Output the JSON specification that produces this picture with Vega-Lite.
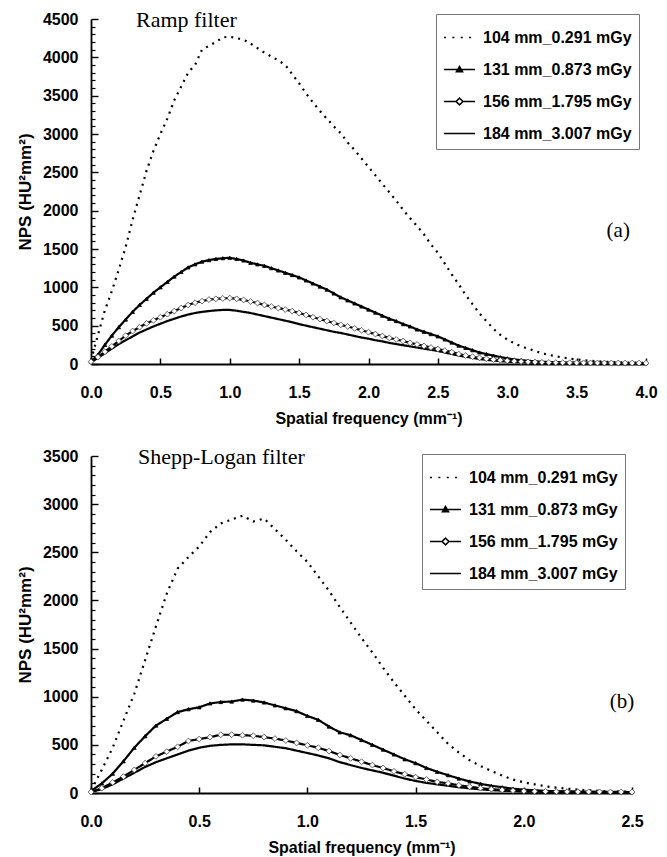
{
  "$schema": "https://vega.github.io/schema/vega-lite/v6.json",
  "padding": {"left": 16, "top": 8, "right": 5, "bottom": 5},
  "background": "white",
  "config": {"view": {"stroke": null}, "font": "Liberation Sans"},
  "spacing": 19,
  "resolve": {
    "scale": {"strokeDash": "independent", "shape": "independent", "color": "independent", "x": "independent", "y": "independent"},
    "legend": {"strokeDash": "independent", "shape": "independent", "color": "independent"}
  },
  "datasets": {
    "ramp": [
      {"f":0.00,"a":50,"b":30,"c":30,"d":20},
      {"f":0.05,"a":380,"b":120,"c":90,"d":80},
      {"f":0.10,"a":700,"b":250,"c":160,"d":140},
      {"f":0.15,"a":950,"b":370,"c":230,"d":200},
      {"f":0.20,"a":1230,"b":480,"c":300,"d":260},
      {"f":0.25,"a":1530,"b":580,"c":370,"d":310},
      {"f":0.30,"a":1880,"b":680,"c":430,"d":360},
      {"f":0.35,"a":2200,"b":770,"c":480,"d":410},
      {"f":0.40,"a":2520,"b":850,"c":530,"d":450},
      {"f":0.45,"a":2780,"b":930,"c":570,"d":490},
      {"f":0.50,"a":3000,"b":1000,"c":610,"d":525},
      {"f":0.55,"a":3200,"b":1070,"c":650,"d":560},
      {"f":0.60,"a":3440,"b":1140,"c":690,"d":590},
      {"f":0.65,"a":3620,"b":1200,"c":730,"d":620},
      {"f":0.70,"a":3800,"b":1260,"c":770,"d":645},
      {"f":0.75,"a":3900,"b":1300,"c":800,"d":665},
      {"f":0.80,"a":4100,"b":1335,"c":820,"d":680},
      {"f":0.85,"a":4150,"b":1355,"c":840,"d":690},
      {"f":0.90,"a":4200,"b":1370,"c":850,"d":700},
      {"f":0.95,"a":4260,"b":1380,"c":855,"d":705},
      {"f":1.00,"a":4270,"b":1385,"c":860,"d":705},
      {"f":1.05,"a":4250,"b":1370,"c":850,"d":695},
      {"f":1.10,"a":4230,"b":1350,"c":835,"d":680},
      {"f":1.15,"a":4180,"b":1320,"c":815,"d":665},
      {"f":1.20,"a":4120,"b":1300,"c":795,"d":645},
      {"f":1.25,"a":4060,"b":1280,"c":770,"d":625},
      {"f":1.30,"a":4010,"b":1250,"c":750,"d":605},
      {"f":1.35,"a":3960,"b":1220,"c":730,"d":585},
      {"f":1.40,"a":3900,"b":1190,"c":710,"d":565},
      {"f":1.45,"a":3780,"b":1160,"c":690,"d":545},
      {"f":1.50,"a":3660,"b":1130,"c":665,"d":520},
      {"f":1.55,"a":3530,"b":1090,"c":640,"d":500},
      {"f":1.60,"a":3410,"b":1050,"c":610,"d":480},
      {"f":1.65,"a":3300,"b":1010,"c":585,"d":460},
      {"f":1.70,"a":3200,"b":970,"c":560,"d":440},
      {"f":1.75,"a":3100,"b":920,"c":535,"d":420},
      {"f":1.80,"a":3010,"b":870,"c":510,"d":405},
      {"f":1.85,"a":2890,"b":830,"c":490,"d":385},
      {"f":1.90,"a":2790,"b":790,"c":465,"d":365},
      {"f":1.95,"a":2680,"b":750,"c":440,"d":345},
      {"f":2.00,"a":2570,"b":710,"c":415,"d":330},
      {"f":2.05,"a":2460,"b":670,"c":390,"d":310},
      {"f":2.10,"a":2350,"b":630,"c":365,"d":295},
      {"f":2.15,"a":2240,"b":590,"c":340,"d":275},
      {"f":2.20,"a":2130,"b":560,"c":320,"d":260},
      {"f":2.25,"a":2010,"b":520,"c":300,"d":245},
      {"f":2.30,"a":1900,"b":490,"c":275,"d":230},
      {"f":2.35,"a":1800,"b":450,"c":255,"d":215},
      {"f":2.40,"a":1690,"b":420,"c":235,"d":200},
      {"f":2.45,"a":1560,"b":390,"c":215,"d":185},
      {"f":2.50,"a":1450,"b":360,"c":195,"d":170},
      {"f":2.55,"a":1310,"b":320,"c":175,"d":150},
      {"f":2.60,"a":1170,"b":280,"c":155,"d":130},
      {"f":2.65,"a":1040,"b":240,"c":130,"d":110},
      {"f":2.70,"a":900,"b":210,"c":110,"d":95},
      {"f":2.75,"a":780,"b":180,"c":95,"d":80},
      {"f":2.80,"a":660,"b":150,"c":80,"d":65},
      {"f":2.85,"a":560,"b":130,"c":68,"d":55},
      {"f":2.90,"a":460,"b":110,"c":58,"d":45},
      {"f":2.95,"a":380,"b":90,"c":50,"d":38},
      {"f":3.00,"a":320,"b":75,"c":42,"d":30},
      {"f":3.05,"a":270,"b":60,"c":36,"d":26},
      {"f":3.10,"a":230,"b":50,"c":32,"d":22},
      {"f":3.15,"a":200,"b":42,"c":28,"d":20},
      {"f":3.20,"a":170,"b":35,"c":25,"d":18},
      {"f":3.25,"a":140,"b":30,"c":22,"d":16},
      {"f":3.30,"a":120,"b":25,"c":20,"d":15},
      {"f":3.35,"a":100,"b":22,"c":18,"d":14},
      {"f":3.40,"a":85,"b":20,"c":17,"d":13},
      {"f":3.45,"a":70,"b":18,"c":16,"d":12},
      {"f":3.50,"a":60,"b":17,"c":15,"d":12},
      {"f":3.55,"a":50,"b":16,"c":15,"d":11},
      {"f":3.60,"a":42,"b":15,"c":14,"d":11},
      {"f":3.65,"a":35,"b":15,"c":14,"d":10},
      {"f":3.70,"a":30,"b":14,"c":14,"d":10},
      {"f":3.75,"a":25,"b":14,"c":13,"d":10},
      {"f":3.80,"a":22,"b":13,"c":13,"d":10},
      {"f":3.85,"a":20,"b":13,"c":13,"d":10},
      {"f":3.90,"a":18,"b":13,"c":13,"d":10},
      {"f":3.95,"a":16,"b":12,"c":12,"d":10},
      {"f":4.00,"a":15,"b":12,"c":12,"d":10}
    ],
    "shepp": [
      {"f":0.00,"a":30,"b":20,"c":10,"d":10},
      {"f":0.05,"a":240,"b":100,"c":50,"d":40},
      {"f":0.10,"a":470,"b":200,"c":110,"d":90},
      {"f":0.15,"a":750,"b":330,"c":170,"d":150},
      {"f":0.20,"a":1030,"b":470,"c":240,"d":210},
      {"f":0.25,"a":1380,"b":590,"c":310,"d":270},
      {"f":0.30,"a":1730,"b":700,"c":380,"d":320},
      {"f":0.35,"a":2070,"b":770,"c":430,"d":360},
      {"f":0.40,"a":2330,"b":840,"c":480,"d":400},
      {"f":0.45,"a":2450,"b":870,"c":540,"d":440},
      {"f":0.50,"a":2560,"b":890,"c":560,"d":470},
      {"f":0.55,"a":2710,"b":930,"c":580,"d":490},
      {"f":0.60,"a":2800,"b":945,"c":605,"d":500},
      {"f":0.65,"a":2840,"b":950,"c":605,"d":505},
      {"f":0.70,"a":2880,"b":970,"c":600,"d":505},
      {"f":0.75,"a":2820,"b":960,"c":595,"d":500},
      {"f":0.80,"a":2850,"b":940,"c":580,"d":495},
      {"f":0.85,"a":2740,"b":910,"c":565,"d":480},
      {"f":0.90,"a":2630,"b":880,"c":545,"d":465},
      {"f":0.95,"a":2510,"b":850,"c":520,"d":440},
      {"f":1.00,"a":2400,"b":800,"c":495,"d":415},
      {"f":1.05,"a":2250,"b":760,"c":470,"d":390},
      {"f":1.10,"a":2100,"b":690,"c":435,"d":360},
      {"f":1.15,"a":1930,"b":630,"c":395,"d":320},
      {"f":1.20,"a":1770,"b":600,"c":360,"d":290},
      {"f":1.25,"a":1610,"b":550,"c":325,"d":260},
      {"f":1.30,"a":1460,"b":500,"c":290,"d":235},
      {"f":1.35,"a":1300,"b":450,"c":260,"d":210},
      {"f":1.40,"a":1150,"b":400,"c":225,"d":180},
      {"f":1.45,"a":1010,"b":350,"c":195,"d":150},
      {"f":1.50,"a":870,"b":310,"c":165,"d":125},
      {"f":1.55,"a":750,"b":260,"c":140,"d":105},
      {"f":1.60,"a":630,"b":220,"c":115,"d":90},
      {"f":1.65,"a":510,"b":185,"c":100,"d":75},
      {"f":1.70,"a":420,"b":150,"c":80,"d":60},
      {"f":1.75,"a":340,"b":120,"c":65,"d":48},
      {"f":1.80,"a":280,"b":95,"c":50,"d":38},
      {"f":1.85,"a":230,"b":75,"c":40,"d":30},
      {"f":1.90,"a":180,"b":60,"c":32,"d":24},
      {"f":1.95,"a":140,"b":45,"c":25,"d":20},
      {"f":2.00,"a":110,"b":35,"c":20,"d":16},
      {"f":2.05,"a":90,"b":28,"c":18,"d":14},
      {"f":2.10,"a":70,"b":22,"c":16,"d":12},
      {"f":2.15,"a":55,"b":18,"c":15,"d":11},
      {"f":2.20,"a":45,"b":15,"c":14,"d":10},
      {"f":2.25,"a":35,"b":13,"c":13,"d":10},
      {"f":2.30,"a":28,"b":12,"c":12,"d":10},
      {"f":2.35,"a":22,"b":11,"c":12,"d":10},
      {"f":2.40,"a":18,"b":10,"c":11,"d":10},
      {"f":2.45,"a":15,"b":10,"c":11,"d":10},
      {"f":2.50,"a":12,"b":10,"c":10,"d":10}
    ]
  },
  "vconcat": [
    {
      "width": 555,
      "height": 345,
      "data": {"name": "ramp"},
      "transform": [{"fold": ["a", "b", "c", "d"], "as": ["s", "v"]}],
      "resolve": {"axis": {"y": "independent"}},
      "layer": [
        {
          "mark": {"type": "line", "strokeWidth": 2.2},
          "encoding": {
            "x": {
              "field": "f", "type": "quantitative",
              "scale": {"domain": [0, 4], "nice": false, "zero": false},
              "axis": {
                "values": [0, 0.5, 1, 1.5, 2, 2.5, 3, 3.5, 4],
                "format": ".1f", "grid": false,
                "domainColor": "black", "domainWidth": 1.8,
                "tickColor": "black", "tickWidth": 1.5, "tickSize": -6,
                "labelPadding": 26, "labelFont": "Liberation Sans", "labelFontWeight": "bold", "labelFontSize": 16, "labelColor": "black",
                "labelFlush": false, "labelOverlap": false,
                "title": "Spatial frequency (mm⁻¹)", "titleFont": "Liberation Sans", "titleFontWeight": "bold", "titleFontSize": 16, "titleColor": "black", "titlePadding": 10
              }
            },
            "y": {
              "field": "v", "type": "quantitative",
              "scale": {"domain": [0, 4500], "nice": false},
              "axis": {
                "values": [0, 500, 1000, 1500, 2000, 2500, 3000, 3500, 4000, 4500],
                "format": "d", "grid": false,
                "domainColor": "black", "domainWidth": 1.8,
                "tickColor": "black", "tickWidth": 1.4, "tickSize": -7,
                "labelPadding": 20, "labelFont": "Liberation Sans", "labelFontWeight": "bold", "labelFontSize": 16, "labelColor": "black",
                "labelFlush": false, "labelOverlap": false,
                "title": "NPS (HU²mm²)", "titleFont": "Liberation Sans", "titleFontWeight": "bold", "titleFontSize": 17, "titleColor": "black", "titlePadding": 8
              }
            },
            "strokeDash": {
              "field": "s", "type": "nominal",
              "scale": {"domain": ["a", "b", "c", "d"], "range": [[2, 5], [1, 0], [1, 0], [1, 0]]},
              "legend": null
            },
            "color": {
              "field": "s", "type": "nominal",
              "scale": {"domain": ["a", "b", "c", "d"], "range": ["black", "black", "black", "black"]},
              "legend": {
                "orient": "none", "legendX": 345, "legendY": -5,
                "title": null, "strokeColor": "#777", "fillColor": "white", "padding": 7,
                "symbolSize": 960, "symbolStrokeWidth": 1.5, "symbolStrokeColor": "black",
                "labelFont": "Liberation Sans", "labelFontWeight": "bold", "labelFontSize": 16, "labelColor": "black",
                "labelOffset": 7, "rowPadding": 7,
                "labelExpr": "datum.label === 'a' ? '104 mm_0.291 mGy' : datum.label === 'b' ? '131 mm_0.873 mGy' : datum.label === 'c' ? '156 mm_1.795 mGy' : '184 mm_3.007 mGy'",
                "encode": {
                  "symbols": {
                    "update": {
                      "shape": {"signal": "datum.value === 'a' ? 'M-1,0H-0.72M-0.46,0H-0.18M0.08,0H0.36M0.62,0H0.9' : datum.value === 'b' ? 'M-1,0H1M-0.2,0.15L0,-0.2L0.2,0.15Z' : datum.value === 'c' ? 'M-1,0H-0.22M0.22,0H1M-0.22,0L0,-0.22L0.22,0L0,0.22Z' : 'M-1,0H1'"},
                      "fill": {"signal": "datum.value === 'b' ? 'black' : 'white'"},
                      "stroke": {"value": "black"}
                    }
                  }
                }
              }
            }
          }
        },
        {
          "transform": [{"filter": "datum.s === 'b' || datum.s === 'c'"}],
          "mark": {"type": "point", "strokeWidth": 0.8, "opacity": 1},
          "encoding": {
            "x": {"field": "f", "type": "quantitative"},
            "y": {
              "field": "v", "type": "quantitative",
              "axis": {
                "orient": "left",
                "values": [100,200,300,400,600,700,800,900,1100,1200,1300,1400,1600,1700,1800,1900,2100,2200,2300,2400,2600,2700,2800,2900,3100,3200,3300,3400,3600,3700,3800,3900,4100,4200,4300,4400],
                "labels": false, "domain": false, "grid": false, "title": null,
                "tickColor": "black", "tickWidth": 1.2, "tickSize": -4
              }
            },
            "shape": {"field": "s", "type": "nominal", "scale": {"domain": ["b", "c"], "range": ["triangle-up", "diamond"]}, "legend": null},
            "fill": {"condition": {"test": "datum.s === 'b'", "value": "black"}, "value": "white"},
            "stroke": {"condition": {"test": "datum.s === 'b'", "value": "black"}, "value": "#444"},
            "size": {"condition": {"test": "datum.s === 'b'", "value": 14}, "value": 34}
          }
        },
        {
          "data": {"values": [{}]},
          "mark": {"type": "text", "text": "Ramp filter", "font": "Liberation Serif", "fontSize": 22, "align": "left", "baseline": "alphabetic", "color": "black"},
          "encoding": {"x": {"datum": 0.324}, "y": {"datum": 4400, "axis": null}}
        },
        {
          "data": {"values": [{}]},
          "mark": {"type": "text", "text": "(a)", "font": "Liberation Serif", "fontSize": 21, "align": "center", "baseline": "middle", "color": "black"},
          "encoding": {"x": {"datum": 3.8}, "y": {"datum": 1730, "axis": null}}
        }
      ]
    },
    {
      "width": 541,
      "height": 337,
      "data": {"name": "shepp"},
      "transform": [{"fold": ["a", "b", "c", "d"], "as": ["s", "v"]}],
      "resolve": {"axis": {"y": "independent"}},
      "layer": [
        {
          "mark": {"type": "line", "strokeWidth": 2.2},
          "encoding": {
            "x": {
              "field": "f", "type": "quantitative",
              "scale": {"domain": [0, 2.5], "nice": false, "zero": false},
              "axis": {
                "values": [0, 0.5, 1, 1.5, 2, 2.5],
                "format": ".1f", "grid": false,
                "domainColor": "black", "domainWidth": 1.8,
                "tickColor": "black", "tickWidth": 1.5, "tickSize": -6,
                "labelPadding": 26, "labelFont": "Liberation Sans", "labelFontWeight": "bold", "labelFontSize": 16, "labelColor": "black",
                "labelFlush": false, "labelOverlap": false,
                "title": "Spatial frequency (mm⁻¹)", "titleFont": "Liberation Sans", "titleFontWeight": "bold", "titleFontSize": 16, "titleColor": "black", "titlePadding": 10
              }
            },
            "y": {
              "field": "v", "type": "quantitative",
              "scale": {"domain": [0, 3500], "nice": false},
              "axis": {
                "values": [0, 500, 1000, 1500, 2000, 2500, 3000, 3500],
                "format": "d", "grid": false,
                "domainColor": "black", "domainWidth": 1.8,
                "tickColor": "black", "tickWidth": 1.4, "tickSize": -7,
                "labelPadding": 20, "labelFont": "Liberation Sans", "labelFontWeight": "bold", "labelFontSize": 16, "labelColor": "black",
                "labelFlush": false, "labelOverlap": false,
                "title": "NPS (HU²mm²)", "titleFont": "Liberation Sans", "titleFontWeight": "bold", "titleFontSize": 17, "titleColor": "black", "titlePadding": 8
              }
            },
            "strokeDash": {
              "field": "s", "type": "nominal",
              "scale": {"domain": ["a", "b", "c", "d"], "range": [[2, 5], [1, 0], [1, 0], [1, 0]]},
              "legend": null
            },
            "color": {
              "field": "s", "type": "nominal",
              "scale": {"domain": ["a", "b", "c", "d"], "range": ["black", "black", "black", "black"]},
              "legend": {
                "orient": "none", "legendX": 331, "legendY": -2,
                "title": null, "strokeColor": "#777", "fillColor": "white", "padding": 7,
                "symbolSize": 960, "symbolStrokeWidth": 1.5, "symbolStrokeColor": "black",
                "labelFont": "Liberation Sans", "labelFontWeight": "bold", "labelFontSize": 16, "labelColor": "black",
                "labelOffset": 7, "rowPadding": 7,
                "labelExpr": "datum.label === 'a' ? '104 mm_0.291 mGy' : datum.label === 'b' ? '131 mm_0.873 mGy' : datum.label === 'c' ? '156 mm_1.795 mGy' : '184 mm_3.007 mGy'",
                "encode": {
                  "symbols": {
                    "update": {
                      "shape": {"signal": "datum.value === 'a' ? 'M-1,0H-0.72M-0.46,0H-0.18M0.08,0H0.36M0.62,0H0.9' : datum.value === 'b' ? 'M-1,0H1M-0.2,0.15L0,-0.2L0.2,0.15Z' : datum.value === 'c' ? 'M-1,0H-0.22M0.22,0H1M-0.22,0L0,-0.22L0.22,0L0,0.22Z' : 'M-1,0H1'"},
                      "fill": {"signal": "datum.value === 'b' ? 'black' : 'white'"},
                      "stroke": {"value": "black"}
                    }
                  }
                }
              }
            }
          }
        },
        {
          "transform": [{"filter": "datum.s === 'b' || datum.s === 'c'"}],
          "mark": {"type": "point", "strokeWidth": 0.8, "opacity": 1},
          "encoding": {
            "x": {"field": "f", "type": "quantitative"},
            "y": {
              "field": "v", "type": "quantitative",
              "axis": {
                "orient": "left",
                "values": [100,200,300,400,600,700,800,900,1100,1200,1300,1400,1600,1700,1800,1900,2100,2200,2300,2400,2600,2700,2800,2900,3100,3200,3300,3400],
                "labels": false, "domain": false, "grid": false, "title": null,
                "tickColor": "black", "tickWidth": 1.2, "tickSize": -4
              }
            },
            "shape": {"field": "s", "type": "nominal", "scale": {"domain": ["b", "c"], "range": ["triangle-up", "diamond"]}, "legend": null},
            "fill": {"condition": {"test": "datum.s === 'b'", "value": "black"}, "value": "white"},
            "stroke": {"condition": {"test": "datum.s === 'b'", "value": "black"}, "value": "#444"},
            "size": {"condition": {"test": "datum.s === 'b'", "value": 14}, "value": 34}
          }
        },
        {
          "data": {"values": [{}]},
          "mark": {"type": "text", "text": "Shepp-Logan filter", "font": "Liberation Serif", "fontSize": 22, "align": "left", "baseline": "alphabetic", "color": "black"},
          "encoding": {"x": {"datum": 0.217}, "y": {"datum": 3418, "axis": null}}
        },
        {
          "data": {"values": [{}]},
          "mark": {"type": "text", "text": "(b)", "font": "Liberation Serif", "fontSize": 21, "align": "center", "baseline": "middle", "color": "black"},
          "encoding": {"x": {"datum": 2.454}, "y": {"datum": 945, "axis": null}}
        }
      ]
    }
  ]
}
